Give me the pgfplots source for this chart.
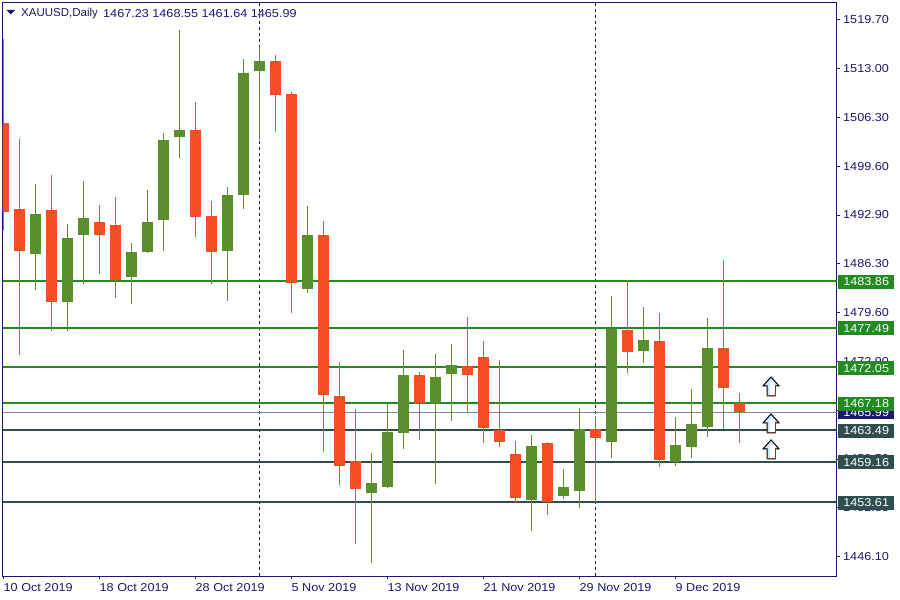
\documentclass[border=0pt]{standalone}
\usepackage{pgfplots}
\usepackage{pgfplotstable}
\pgfplotsset{compat=1.18}
\usepackage{fontspec}
\setmainfont[FakeStretch=1.1]{Liberation Sans}
\newfontfamily\namefont{Liberation Sans}
\definecolor{axisnavy}{HTML}{191970}
\definecolor{cgreen}{HTML}{5B8F2E}
\definecolor{cred}{HTML}{F54D24}
\definecolor{lvlgreen}{HTML}{228B22}
\definecolor{lvldark}{HTML}{2F4F4F}
\definecolor{bidgrey}{HTML}{778899}
\definecolor{arrbrown}{HTML}{7A3B22}
\definecolor{arrblue}{HTML}{CFE8FF}

\pgfdeclareplotmark{mtarrow}{%
  \pgfsetlinewidth{1pt}%
  \pgfsetfillcolor{arrblue}%
  \pgfpathmoveto{\pgfqpoint{0pt}{0pt}}%
  \pgfpathlineto{\pgfqpoint{-8pt}{-9pt}}%
  \pgfpathlineto{\pgfqpoint{-4pt}{-9pt}}%
  \pgfpathlineto{\pgfqpoint{-4pt}{-19pt}}%
  \pgfpathlineto{\pgfqpoint{4pt}{-19pt}}%
  \pgfpathlineto{\pgfqpoint{4pt}{-9pt}}%
  \pgfpathlineto{\pgfqpoint{8pt}{-9pt}}%
  \pgfpathclose
  \pgfsetstrokecolor{black}%
  \pgfusepath{fill,stroke}%
  \pgfsetfillcolor{white}%
  \pgfpathrectangle{\pgfqpoint{-1pt}{-18.5pt}}{\pgfqpoint{4.5pt}{13pt}}%
  \pgfusepath{fill}%
  \pgfsetstrokecolor{arrbrown}%
  \pgfpathmoveto{\pgfqpoint{4pt}{-9pt}}%
  \pgfpathlineto{\pgfqpoint{4pt}{-19pt}}%
  \pgfpathlineto{\pgfqpoint{-4pt}{-19pt}}%
  \pgfpathlineto{\pgfqpoint{-4pt}{-14pt}}%
  \pgfusepath{stroke}%
}

\pgfplotstableread{
x low high bot top
2 1482.64 1497.15 1487.57 1493.04
4 1477.03 1491.67 1481.00 1489.76
5 1483.46 1497.56 1490.17 1492.49
8 1480.72 1489.07 1484.42 1487.84
9 1487.70 1496.33 1487.84 1491.95
10 1487.98 1504.13 1492.22 1503.17
11 1500.71 1518.22 1503.58 1504.54
14 1481.13 1496.74 1487.98 1495.64
15 1493.72 1514.26 1495.64 1512.34
16 1503.17 1515.90 1512.61 1513.98
19 1482.23 1494.14 1482.78 1490.17
23 1445.27 1460.33 1454.85 1456.22
24 1455.54 1467.17 1455.67 1463.20
25 1460.88 1474.43 1463.07 1471.00
27 1456.09 1473.88 1467.17 1470.73
28 1464.71 1475.25 1471.14 1472.37
33 1449.65 1462.79 1453.90 1461.29
35 1454.03 1458.14 1454.44 1455.67
36 1452.80 1466.49 1455.13 1463.61
38 1459.64 1481.82 1461.83 1477.30
40 1472.65 1480.31 1474.29 1475.79
42 1458.55 1465.26 1459.10 1461.42
43 1459.64 1469.09 1461.15 1464.30
44 1462.52 1478.81 1463.89 1474.70
}\greendata

\pgfplotstableread{
x low high bot top
0 1490.85 1516.99 1493.31 1505.50
1 1473.74 1503.31 1487.98 1493.72
3 1477.03 1498.38 1481.00 1493.59
6 1484.83 1494.27 1490.17 1491.95
7 1481.54 1495.37 1484.01 1491.53
12 1489.89 1508.37 1492.63 1504.54
13 1483.46 1494.82 1487.84 1492.77
17 1504.26 1514.80 1509.33 1513.98
18 1479.49 1509.74 1483.60 1509.46
20 1460.47 1492.08 1468.27 1490.17
21 1455.95 1472.78 1458.55 1468.13
22 1447.87 1466.35 1455.40 1459.23
26 1462.11 1471.41 1467.17 1471.00
29 1465.80 1478.94 1471.00 1472.24
30 1461.70 1475.66 1463.75 1473.47
31 1461.15 1473.06 1461.83 1463.48
32 1453.48 1461.97 1454.17 1460.19
34 1451.84 1461.83 1453.62 1461.70
37 1453.62 1465.39 1462.38 1463.61
39 1471.28 1484.01 1474.15 1477.16
41 1458.41 1479.49 1459.37 1475.66
45 1463.61 1486.74 1469.22 1474.70
46 1461.64 1468.55 1465.99 1467.23
}\reddata

\pgfplotsset{
  wickstyle/.style={draw=none, mark=none, forget plot,
    error bars/.cd, y dir=both, y explicit, error mark=none,
    error bar style={solid, line width=1pt, draw=#1, color=#1}},
  bodystyle/.style={draw=none, mark=none, forget plot,
    error bars/.cd, y dir=plus, y explicit, error mark=none,
    error bar style={solid, line width=11pt, draw=#1, color=#1}},
}

\begin{document}
\begin{tikzpicture}[x=1pt,y=1pt]
\useasboundingbox (0,0) rectangle (900,600);
\begin{axis}[
  at={(2.5pt,24pt)}, anchor=south west,
  scale only axis, width=834pt, height=573.5pt,
  xmin=-0.0625, xmax=52.0625, ymin=1443.49, ymax=1521.99,
  axis line style={axisnavy, line width=1pt},
  tick style={axisnavy, line width=1pt},
  major tick length=3pt,
  tick align=outside,
  xtick pos=bottom, ytick pos=right,
  xtick={0,6,12,18,24,30,36,42},
  xticklabels={10 Oct 2019,18 Oct 2019,28 Oct 2019,5 Nov 2019,13 Nov 2019,21 Nov 2019,29 Nov 2019,9 Dec 2019},
  ytick={1446.10,1452.80,1459.50,1466.20,1472.90,1479.60,1486.30,1492.90,1499.60,1506.30,1513.00,1519.70},
  yticklabels={1446.10,1452.80,1459.50,1466.20,1472.90,1479.60,1486.30,1492.90,1499.60,1506.30,1513.00,1519.70},
  tick label style={font=\fontsize{11.5}{13}\selectfont, text=axisnavy, inner sep=0pt},
  xticklabel style={anchor=north west, yshift=-4pt, xshift=0pt},
  yticklabel style={anchor=west, xshift=3.5pt},
]
% dashed period separators
\addplot[axisnavy, line width=1pt, dash pattern=on 3pt off 3pt, forget plot] coordinates {(16,1443.49)(16,1521.99)};
\addplot[axisnavy, line width=1pt, dash pattern=on 3pt off 3pt, forget plot] coordinates {(37,1443.49)(37,1521.99)};
% levels
\addplot[lvlgreen, line width=2pt, forget plot] coordinates {(-0.0625,1483.86)(52.0625,1483.86)};
\addplot[lvlgreen, line width=2pt, forget plot] coordinates {(-0.0625,1477.49)(52.0625,1477.49)};
\addplot[lvlgreen, line width=2pt, forget plot] coordinates {(-0.0625,1472.05)(52.0625,1472.05)};
\addplot[lvlgreen, line width=2pt, forget plot] coordinates {(-0.0625,1467.18)(52.0625,1467.18)};
\addplot[bidgrey, line width=1pt, forget plot] coordinates {(-0.0625,1465.9)(52.0625,1465.9)};
\addplot[lvldark, line width=2pt, forget plot] coordinates {(-0.0625,1463.49)(52.0625,1463.49)};
\addplot[lvldark, line width=2pt, forget plot] coordinates {(-0.0625,1459.16)(52.0625,1459.16)};
\addplot[lvldark, line width=2pt, forget plot] coordinates {(-0.0625,1453.61)(52.0625,1453.61)};
% candles
\addplot[wickstyle=cgreen] table[x=x, y=bot, y error plus expr=\thisrow{high}-\thisrow{bot}, y error minus expr=\thisrow{bot}-\thisrow{low}] {\greendata};
\addplot[wickstyle=cred] table[x=x, y=bot, y error plus expr=\thisrow{high}-\thisrow{bot}, y error minus expr=\thisrow{bot}-\thisrow{low}] {\reddata};
\addplot[bodystyle=cgreen] table[x=x, y=bot, y error plus expr=\thisrow{top}-\thisrow{bot}] {\greendata};
\addplot[bodystyle=cred] table[x=x, y=bot, y error plus expr=\thisrow{top}-\thisrow{bot}] {\reddata};
% arrows
\addplot[only marks, mark=mtarrow, forget plot] coordinates {(47.97,1470.73)(47.97,1465.67)(47.97,1462.11)};
% anchors for the price labels
\coordinate (a) at (axis cs:52.0625,1483.86);
\coordinate (b) at (axis cs:52.0625,1477.49);
\coordinate (c) at (axis cs:52.0625,1472.05);
\coordinate (d) at (axis cs:52.0625,1465.99);
\coordinate (e) at (axis cs:52.0625,1467.18);
\coordinate (f) at (axis cs:52.0625,1463.49);
\coordinate (g) at (axis cs:52.0625,1459.16);
\coordinate (h) at (axis cs:52.0625,1453.61);
\end{axis}
\tikzset{pl/.style={anchor=west, xshift=1.5pt, yshift=-0.7pt, minimum width=56pt, minimum height=14pt, inner sep=0pt,
  text=white, font=\fontsize{11.5}{13}\selectfont}}
\node[pl, fill=axisnavy] at (d) {1465.99};
\node[pl, fill=lvlgreen] at (a) {1483.86};
\node[pl, fill=lvlgreen] at (b) {1477.49};
\node[pl, fill=lvlgreen] at (c) {1472.05};
\node[pl, fill=lvlgreen] at (e) {1467.18};
\node[pl, fill=lvldark] at (f) {1463.49};
\node[pl, fill=lvldark] at (g) {1459.16};
\node[pl, fill=lvldark] at (h) {1453.61};
% header
\fill[axisnavy] (6.5,590) -- (15,590) -- (10.75,585.5) -- cycle;
\node[anchor=west, inner sep=0pt, text=axisnavy, font=\namefont\fontsize{11.5}{13}\selectfont] at (21,586.5) {XAUUSD,Daily};
\node[anchor=west, inner sep=0pt, text=axisnavy, font=\fontsize{11.5}{13}\selectfont] at (103,586.5) {1467.23 1468.55 1461.64 1465.99};
\end{tikzpicture}
\end{document}
